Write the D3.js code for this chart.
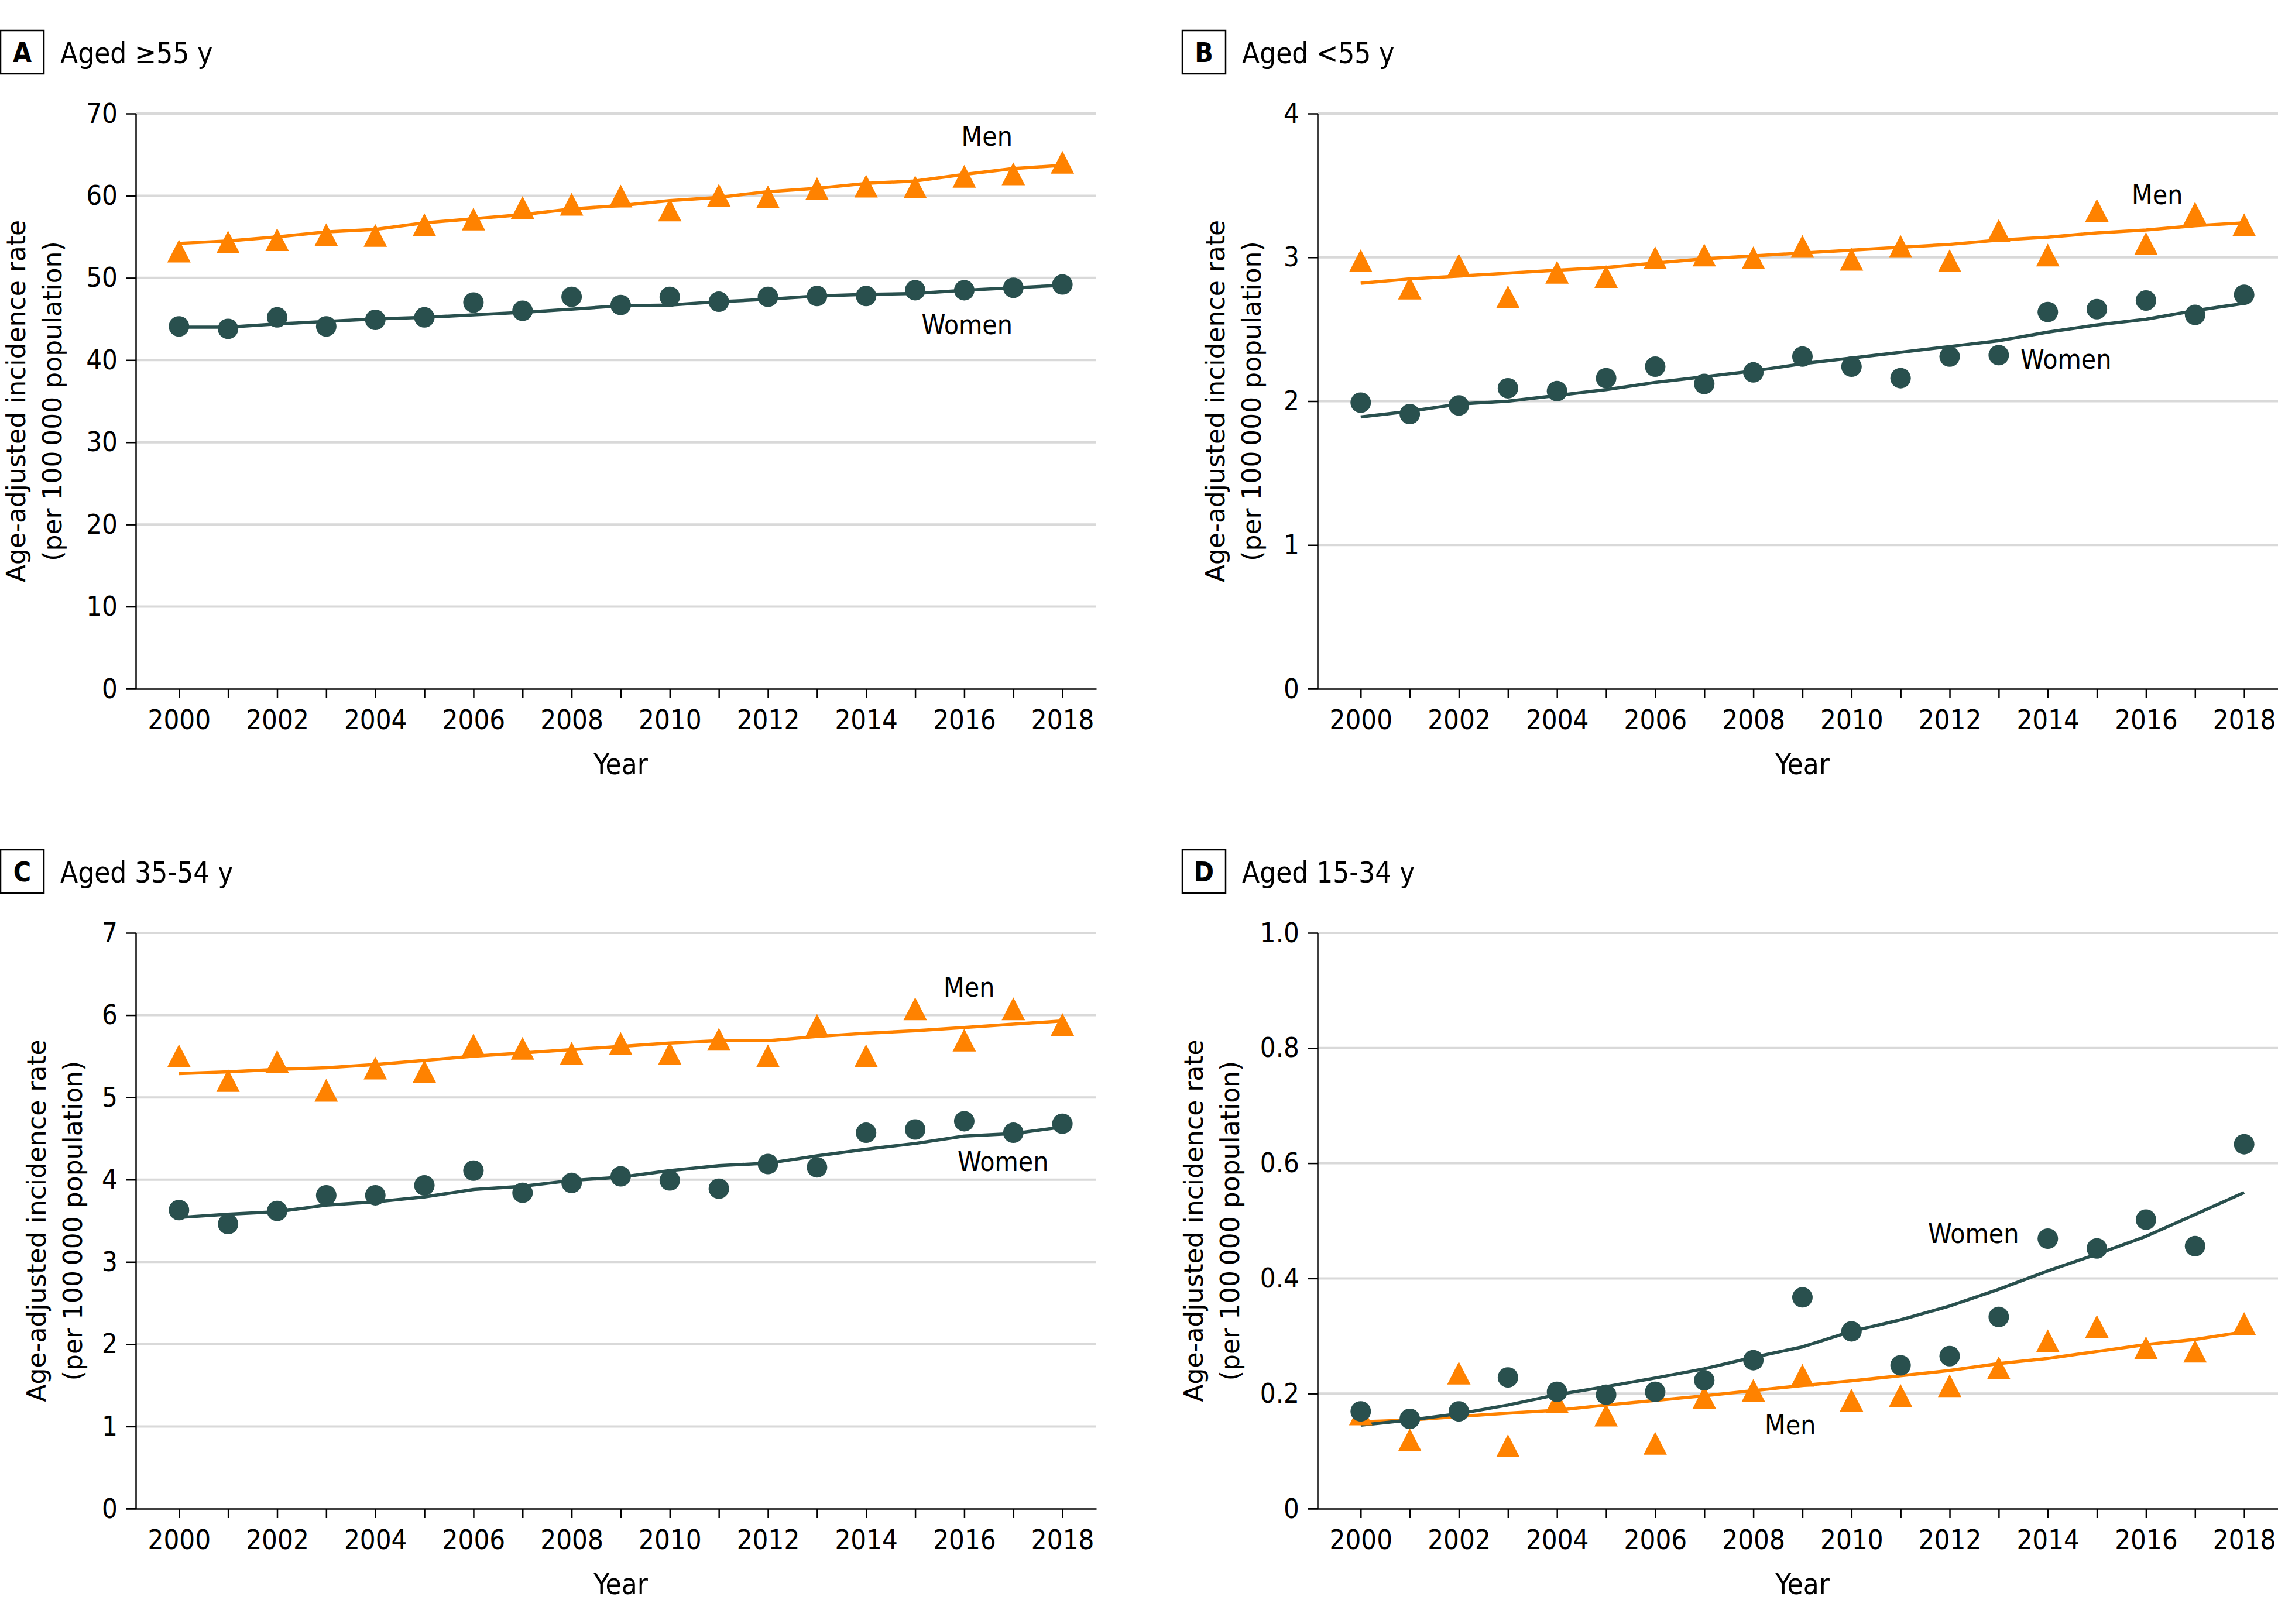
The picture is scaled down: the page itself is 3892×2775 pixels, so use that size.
<!DOCTYPE html>
<html>
<head>
<meta charset="utf-8">
<script src="https://cdn.jsdelivr.net/npm/d3@7"></script>
<style>
  html, body { margin: 0; padding: 0; background: #ffffff; }
  svg { display: block; }
  .cond { font-family: "DejaVu Sans Condensed", "DejaVu Sans", sans-serif; font-stretch: condensed; }
  .wide { font-family: "DejaVu Sans", sans-serif; }
</style>
</head>
<body>
<svg id="chart" width="3892" height="2775"></svg>
<script>
// ---------------- DATA ----------------
const years = [2000,2001,2002,2003,2004,2005,2006,2007,2008,2009,2010,2011,2012,2013,2014,2015,2016,2017,2018];
const xTickLabels = [2000,2002,2004,2006,2008,2010,2012,2014,2016,2018];

const panelLetters = ["A","B","C","D"];
const panelTitles = ["Aged \u226555 y","Aged <55 y","Aged 35-54 y","Aged 15-34 y"];

// Panel A: aged >=55 y
const womenObsA = [44.1,43.8,45.2,44.1,44.9,45.2,47.0,46.0,47.7,46.7,47.7,47.1,47.7,47.8,47.8,48.5,48.5,48.8,49.2];
const womenFitA = [44.0,44.0,44.4,44.7,45.0,45.2,45.5,45.8,46.2,46.6,46.7,47.1,47.4,47.8,48.0,48.1,48.5,48.8,49.1];
const menObsA   = [52.8,53.9,54.2,54.8,54.7,56.0,56.7,58.1,58.5,59.5,57.8,59.6,59.4,60.4,60.7,60.6,61.9,62.2,63.6];
const menFitA   = [54.2,54.5,55.0,55.6,55.9,56.7,57.2,57.7,58.4,58.8,59.4,59.8,60.5,60.9,61.5,61.8,62.6,63.3,63.7];
const yTicksA = [0,10,20,30,40,50,60,70];
const yTickLabelsA = ["0","10","20","30","40","50","60","70"];

// Panel B: aged <55 y
const womenObsB = [1.99,1.91,1.97,2.09,2.07,2.16,2.24,2.12,2.20,2.31,2.24,2.16,2.31,2.32,2.62,2.64,2.70,2.60,2.74];
const womenFitB = [1.89,1.93,1.98,2.00,2.04,2.08,2.13,2.17,2.21,2.26,2.30,2.34,2.38,2.42,2.48,2.53,2.57,2.63,2.68];
const menObsB   = [2.95,2.76,2.92,2.70,2.87,2.84,2.97,2.99,2.97,3.05,2.96,3.05,2.95,3.16,2.99,3.30,3.07,3.28,3.20];
const menFitB   = [2.82,2.85,2.87,2.89,2.91,2.93,2.96,2.99,3.01,3.03,3.05,3.07,3.09,3.12,3.14,3.17,3.19,3.22,3.24];
const yTicksB = [0,1,2,3,4];
const yTickLabelsB = ["0","1","2","3","4"];

// Panel C: aged 35-54 y
const womenObsC = [3.63,3.46,3.62,3.81,3.81,3.93,4.11,3.84,3.96,4.04,3.99,3.89,4.19,4.15,4.57,4.61,4.71,4.57,4.68];
const womenFitC = [3.54,3.58,3.61,3.69,3.73,3.79,3.88,3.92,3.99,4.03,4.11,4.17,4.20,4.29,4.37,4.44,4.53,4.56,4.64];
const menObsC   = [5.46,5.16,5.39,5.04,5.31,5.27,5.59,5.55,5.49,5.61,5.49,5.66,5.46,5.83,5.46,6.03,5.65,6.03,5.84];
const menFitC   = [5.29,5.31,5.34,5.36,5.40,5.45,5.50,5.54,5.58,5.62,5.66,5.69,5.69,5.74,5.78,5.81,5.85,5.89,5.93];
const yTicksC = [0,1,2,3,4,5,6,7];
const yTickLabelsC = ["0","1","2","3","4","5","6","7"];

// Panel D: aged 15-34 y
const womenObsD = [0.169,0.156,0.169,0.228,0.203,0.198,0.203,0.223,0.258,0.367,0.308,0.249,0.265,0.333,0.469,0.452,0.502,0.456,0.633];
const womenFitD = [0.145,0.154,0.165,0.180,0.198,0.212,0.227,0.243,0.263,0.281,0.308,0.328,0.352,0.381,0.413,0.442,0.473,0.511,0.549];
const menObsD   = [0.158,0.113,0.229,0.103,0.179,0.156,0.107,0.187,0.199,0.225,0.182,0.190,0.207,0.238,0.285,0.310,0.273,0.267,0.315];
const menFitD   = [0.151,0.154,0.160,0.166,0.171,0.180,0.188,0.196,0.205,0.214,0.222,0.231,0.240,0.252,0.261,0.273,0.285,0.294,0.307];
const yTicksD = [0,0.2,0.4,0.6,0.8,1.0];
const yTickLabelsD = ["0","0.2","0.4","0.6","0.8","1.0"];

const seriesNames = ["Men","Women"];
const yTitle1 = "Age-adjusted incidence rate";
const yTitle2 = "(per 100\u2009000 population)";
const xTitle = "Year";

// ---------------- LAYOUT / STYLE ----------------
const COLOR_MEN = "#ff8200";
const COLOR_WOMEN = "#29504e";
const GRID = "#d9d9d9";
const X_DOMAIN = [1999.12, 2018.69];

const panels = [
  { letter: panelLetters[0], title: panelTitles[0], left: 232,  right: 1873, top: 194,  bottom: 1177,
    yMax: 70, yTicks: yTicksA, yLabels: yTickLabelsA,
    men: menObsA, menFit: menFitA, women: womenObsA, womenFit: womenFitA,
    titleOff: -189,
    menLbl: { dx: 1498, dy: 55, anchor: "end" }, womenLbl: { dx: 1498, dy: 377, anchor: "end" } },
  { letter: panelLetters[1], title: panelTitles[1], left: 2251, right: 3892, top: 194,  bottom: 1177,
    yMax: 4, yTicks: yTicksB, yLabels: yTickLabelsB,
    men: menObsB, menFit: menFitB, women: womenObsB, womenFit: womenFitB,
    titleOff: -159,
    menLbl: { dx: 1391, dy: 155, anchor: "start" }, womenLbl: { dx: 1201, dy: 436, anchor: "start" } },
  { letter: panelLetters[2], title: panelTitles[2], left: 232,  right: 1873, top: 1594, bottom: 2578,
    yMax: 7, yTicks: yTicksC, yLabels: yTickLabelsC,
    men: menObsC, menFit: menFitC, women: womenObsC, womenFit: womenFitC,
    titleOff: -154,
    menLbl: { dx: 1380, dy: 109, anchor: "start" }, womenLbl: { dx: 1404, dy: 407, anchor: "start" } },
  { letter: panelLetters[3], title: panelTitles[3], left: 2251, right: 3892, top: 1594, bottom: 2578,
    yMax: 1.0, yTicks: yTicksD, yLabels: yTickLabelsD,
    men: menObsD, menFit: menFitD, women: womenObsD, womenFit: womenFitD,
    titleOff: -196,
    menLbl: { dx: 764, dy: 857, anchor: "start" }, womenLbl: { dx: 1043, dy: 530, anchor: "start" } }
];

const svg = d3.select("#chart");
svg.append("rect").attr("width", 3892).attr("height", 2775).attr("fill", "#fff");

// triangle with centroid at origin
const TRI_W = 40, TRI_H = 39;
const triPath = `M0,${-TRI_H*2/3}L${TRI_W/2},${TRI_H/3}L${-TRI_W/2},${TRI_H/3}Z`;
const CIRC_R = 17.5;

panels.forEach(p => {
  const g = svg.append("g");
  const x = d3.scaleLinear().domain(X_DOMAIN).range([p.left, p.right]);
  const y = d3.scaleLinear().domain([0, p.yMax]).range([p.bottom, p.top]);

  // Panel header: box with letter + title
  const boxX = p.left - 231, boxY = p.top - 142;
  g.append("rect").attr("x", boxX).attr("y", boxY).attr("width", 74).attr("height", 74)
    .attr("fill", "none").attr("stroke", "#000").attr("stroke-width", 2.5);
  g.append("text").attr("class", "cond").attr("x", boxX + 37).attr("y", boxY + 54)
    .attr("text-anchor", "middle").attr("font-size", 46).attr("font-weight", "bold")
    .attr("fill", "#000").text(p.letter);
  g.append("text").attr("class", "cond").attr("x", boxX + 102).attr("y", boxY + 56)
    .attr("font-size", 49).attr("fill", "#000").text(p.title);

  // gridlines
  g.append("g").selectAll("line").data(p.yTicks.filter(v => v > 0)).join("line")
    .attr("x1", p.left).attr("x2", p.right)
    .attr("y1", d => y(d)).attr("y2", d => y(d))
    .attr("stroke", GRID).attr("stroke-width", 4);

  // y axis
  const yAxis = d3.axisLeft(y).tickValues(p.yTicks)
    .tickFormat((d, i) => p.yLabels[i]).tickSize(16).tickSizeOuter(0).tickPadding(15);
  const ya = g.append("g").attr("transform", `translate(${p.left},0)`).call(yAxis);
  ya.select(".domain").attr("stroke", "#000").attr("stroke-width", 2.5);
  ya.selectAll(".tick line").attr("stroke", "#000").attr("stroke-width", 2.5);
  ya.selectAll(".tick text").attr("class", "cond").attr("font-size", 47).attr("fill", "#000");

  // x axis
  const xAxis = d3.axisBottom(x).tickValues(years)
    .tickFormat(d => xTickLabels.includes(d) ? String(d) : "")
    .tickSize(16).tickSizeOuter(0).tickPadding(20);
  const xa = g.append("g").attr("transform", `translate(0,${p.bottom})`).call(xAxis);
  xa.select(".domain").attr("stroke", "#000").attr("stroke-width", 2.5);
  xa.selectAll(".tick line").attr("stroke", "#000").attr("stroke-width", 2.5);
  xa.selectAll(".tick text").attr("class", "cond").attr("font-size", 47).attr("fill", "#000");
  // extend x-axis line to the left to meet the 0 tick
  g.append("line").attr("x1", p.left - 16).attr("x2", p.left)
    .attr("y1", p.bottom).attr("y2", p.bottom).attr("stroke", "#000").attr("stroke-width", 2.5);

  // axis titles
  const midY = (p.top + p.bottom) / 2;
  g.append("text").attr("class", "wide")
    .attr("transform", `translate(${p.left + p.titleOff},${midY}) rotate(-90)`)
    .attr("text-anchor", "middle").attr("font-size", 44).attr("fill", "#000").text(yTitle1);
  g.append("text").attr("class", "wide")
    .attr("transform", `translate(${p.left + p.titleOff + 62},${midY}) rotate(-90)`)
    .attr("text-anchor", "middle").attr("font-size", 44).attr("fill", "#000").text(yTitle2);
  g.append("text").attr("class", "cond")
    .attr("x", x(2009)).attr("y", p.bottom + 146)
    .attr("text-anchor", "middle").attr("font-size", 49).attr("fill", "#000").text(xTitle);

  // fitted lines
  const line = d3.line().x((d, i) => x(years[i])).y(d => y(d));
  g.append("path").datum(p.menFit).attr("d", line)
    .attr("fill", "none").attr("stroke", COLOR_MEN).attr("stroke-width", 5.5).attr("stroke-linejoin", "round");
  g.append("path").datum(p.womenFit).attr("d", line)
    .attr("fill", "none").attr("stroke", COLOR_WOMEN).attr("stroke-width", 5.5).attr("stroke-linejoin", "round");

  // markers
  g.append("g").selectAll("path").data(p.men).join("path")
    .attr("d", triPath)
    .attr("transform", (d, i) => `translate(${x(years[i])},${y(d)})`)
    .attr("fill", COLOR_MEN);
  g.append("g").selectAll("circle").data(p.women).join("circle")
    .attr("cx", (d, i) => x(years[i])).attr("cy", d => y(d)).attr("r", CIRC_R)
    .attr("fill", COLOR_WOMEN);

  // series labels
  g.append("text").attr("class", "cond")
    .attr("x", p.left + p.menLbl.dx).attr("y", p.top + p.menLbl.dy)
    .attr("text-anchor", p.menLbl.anchor).attr("font-size", 46).attr("fill", "#000").text(seriesNames[0]);
  g.append("text").attr("class", "cond")
    .attr("x", p.left + p.womenLbl.dx).attr("y", p.top + p.womenLbl.dy)
    .attr("text-anchor", p.womenLbl.anchor).attr("font-size", 46).attr("fill", "#000").text(seriesNames[1]);
});
</script>
</body>
</html>
